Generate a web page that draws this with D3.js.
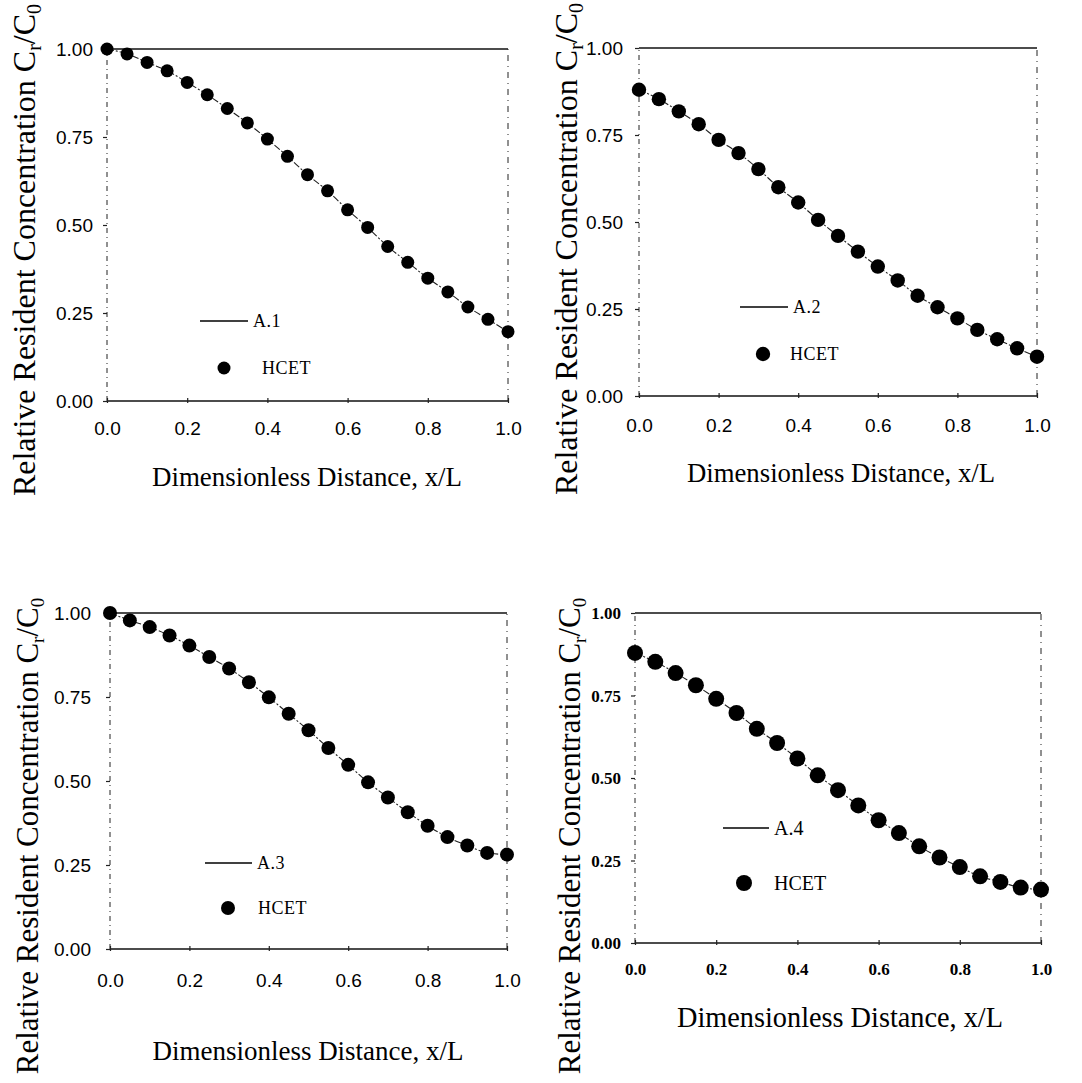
<!DOCTYPE html>
<html>
<head>
<meta charset="utf-8">
<script src="https://cdn.jsdelivr.net/npm/d3@7/dist/d3.min.js"></script>
<style>
html,body{margin:0;padding:0;background:#fff;}
svg{display:block;}
</style>
</head>
<body>
<svg id="chart" width="1082" height="1083"></svg>
<script>
// ---------------- DATA ----------------
const xValues = [0.00,0.05,0.10,0.15,0.20,0.25,0.30,0.35,0.40,0.45,0.50,0.55,0.60,0.65,0.70,0.75,0.80,0.85,0.90,0.95,1.00];
const xTicks = [0.0,0.2,0.4,0.6,0.8,1.0];
const yTicks = [0.00,0.25,0.50,0.75,1.00];
const xTickLabels = ["0.0","0.2","0.4","0.6","0.8","1.0"];
const yTickLabels = ["0.00","0.25","0.50","0.75","1.00"];
const seriesNames = ["A.1","A.2","A.3","A.4"];
const markerName = "HCET";

const valuesA1 = [1.000,0.986,0.962,0.938,0.905,0.870,0.831,0.790,0.744,0.695,0.643,0.597,0.543,0.493,0.439,0.394,0.349,0.310,0.267,0.232,0.197];
const valuesA2 = [0.880,0.853,0.818,0.781,0.736,0.698,0.652,0.600,0.556,0.506,0.460,0.415,0.372,0.332,0.288,0.255,0.223,0.190,0.163,0.137,0.113];
const valuesA3 = [1.000,0.978,0.958,0.933,0.903,0.869,0.835,0.794,0.749,0.700,0.651,0.598,0.548,0.496,0.451,0.407,0.367,0.333,0.308,0.286,0.281];
const valuesA4 = [0.879,0.852,0.818,0.781,0.740,0.697,0.649,0.606,0.559,0.508,0.463,0.417,0.372,0.333,0.293,0.259,0.230,0.202,0.185,0.168,0.162];

// ---------------- LAYOUT ----------------
const panels = [
  {values: valuesA1, name: seriesNames[0], x0:107, x1:508, yT:49,  yB:401, r:6.5,
   tickFont:"'Liberation Sans', Arial, sans-serif", tickSize:19, tickWeight:"normal",
   yLabRight:93, xLabBase:435,
   xTitleX:307, xTitleY:486, xTitleLen:310, xTitleSize:27,
   yTitleX:35, yTitleC:250, yTitleSize:32,
   legLine:[200,248,321], legText1X:253, legDot:[224,368], legText2X:262, legSize:18, legSpacing:0.5},
  {values: valuesA2, name: seriesNames[1], x0:639, x1:1037, yT:48, yB:396, r:7.2,
   tickFont:"'Liberation Sans', Arial, sans-serif", tickSize:19, tickWeight:"normal",
   yLabRight:623, xLabBase:432,
   xTitleX:841, xTitleY:482, xTitleLen:308, xTitleSize:27,
   yTitleX:577, yTitleC:249, yTitleSize:32,
   legLine:[740,788,307], legText1X:793, legDot:[763,354], legText2X:790, legSize:18, legSpacing:0.5},
  {values: valuesA3, name: seriesNames[2], x0:110, x1:507, yT:613, yB:949, r:7,
   tickFont:"'Liberation Sans', Arial, sans-serif", tickSize:19, tickWeight:"normal",
   yLabRight:91, xLabBase:987,
   xTitleX:308, xTitleY:1060, xTitleLen:311, xTitleSize:27,
   yTitleX:38, yTitleC:836, yTitleSize:31,
   legLine:[205,252,863], legText1X:257, legDot:[228,908], legText2X:258, legSize:18, legSpacing:0.5},
  {values: valuesA4, name: seriesNames[3], x0:635, x1:1041, yT:613, yB:943, r:8,
   tickFont:"'Liberation Serif', 'Times New Roman', serif", tickSize:17, tickWeight:"bold",
   yLabRight:621, xLabBase:975,
   xTitleX:840, xTitleY:1027, xTitleLen:326, xTitleSize:30,
   yTitleX:580, yTitleC:836, yTitleSize:31,
   legLine:[723,769,828], legText1X:774, legDot:[744,883], legText2X:774, legSize:20, legSpacing:0}
];

const svg = d3.select("#chart");
const serif = "'Liberation Serif', 'Times New Roman', serif";

panels.forEach((p, pi) => {
  const x = d3.scaleLinear().domain([0,1]).range([p.x0, p.x1]);
  const y = d3.scaleLinear().domain([0,1]).range([p.yB, p.yT]);
  const g = svg.append("g");

  // frame: top/bottom solid, left/right dashed (as in scanned figure)
  g.append("line").attr("x1",p.x0).attr("x2",p.x1).attr("y1",y(1)).attr("y2",y(1))
    .attr("stroke","#111").attr("stroke-width",1.6);
  g.append("line").attr("x1",p.x0).attr("x2",p.x1).attr("y1",y(0)).attr("y2",y(0))
    .attr("stroke","#111").attr("stroke-width",1.6);
  g.append("line").attr("x1",p.x0).attr("x2",p.x0).attr("y1",y(0)).attr("y2",y(1))
    .attr("stroke","#222").attr("stroke-width",1).attr("stroke-dasharray","5,4,1,4");
  g.append("line").attr("x1",p.x1).attr("x2",p.x1).attr("y1",y(0)).attr("y2",y(1))
    .attr("stroke","#222").attr("stroke-width",1).attr("stroke-dasharray","6,5,1,5");

  // y axis
  const yAxis = d3.axisLeft(y).tickValues(yTicks)
    .tickFormat((d,i) => yTickLabels[i]).tickSize(4).tickPadding(p.x0 - p.yLabRight - 4);
  const ya = g.append("g").attr("transform",`translate(${p.x0},0)`).call(yAxis);
  ya.select(".domain").remove();
  ya.selectAll("line").attr("stroke","#222").attr("stroke-width",1.2);
  ya.selectAll("text").attr("font-family",p.tickFont).attr("font-size",p.tickSize)
    .attr("font-weight",p.tickWeight).attr("fill","#000").attr("dy","0.35em");

  // x axis
  const xAxis = d3.axisBottom(x).tickValues(xTicks)
    .tickFormat((d,i) => xTickLabels[i]).tickSize(3).tickPadding(0);
  const xa = g.append("g").attr("transform",`translate(0,${p.yB})`).call(xAxis);
  xa.select(".domain").remove();
  xa.selectAll("line").attr("stroke","#222").attr("stroke-width",1.2).attr("y1",-3).attr("y2",2);
  xa.selectAll("text").attr("font-family",p.tickFont).attr("font-size",p.tickSize)
    .attr("font-weight",p.tickWeight).attr("fill","#000")
    .attr("dy",null).attr("y", p.xLabBase - p.yB);

  // x title
  g.append("text").attr("x",p.xTitleX).attr("y",p.xTitleY)
    .attr("text-anchor","middle").attr("font-family",serif).attr("font-size",p.xTitleSize)
    .attr("textLength",p.xTitleLen).attr("lengthAdjust","spacingAndGlyphs")
    .text("Dimensionless Distance, x/L");

  // y title (rotated)
  const subSize = Math.round(p.yTitleSize * 0.62);
  const yt = g.append("text")
    .attr("transform",`translate(${p.yTitleX},${p.yTitleC}) rotate(-90)`)
    .attr("text-anchor","middle").attr("font-family",serif).attr("font-size",p.yTitleSize)
    .attr("fill","#000");
  yt.append("tspan").text("Relative Resident Concentration C");
  yt.append("tspan").attr("font-size",subSize).attr("dy",6).text("r");
  yt.append("tspan").attr("dy",-6).text("/C");
  yt.append("tspan").attr("font-size",subSize).attr("dy",6).text("0");

  // curve (A.n)
  const pts = xValues.map((xv,i) => [xv, p.values[i]]);
  const line = d3.line().x(d => x(d[0])).y(d => y(d[1])).curve(d3.curveMonotoneX);
  g.append("path").datum(pts).attr("d",line).attr("fill","none")
    .attr("stroke","#222").attr("stroke-width",1.1).attr("stroke-dasharray","7,2,2,2");

  // HCET points
  g.selectAll("circle.pt").data(pts).enter().append("circle").attr("class","pt")
    .attr("cx",d => x(d[0])).attr("cy",d => y(d[1])).attr("r",p.r).attr("fill","#000");

  // legend
  g.append("line").attr("x1",p.legLine[0]).attr("x2",p.legLine[1])
    .attr("y1",p.legLine[2]).attr("y2",p.legLine[2]).attr("stroke","#000").attr("stroke-width",1.5);
  g.append("text").attr("x",p.legText1X).attr("y",p.legLine[2]).attr("dy","0.35em")
    .attr("font-family",serif).attr("font-size",p.legSize).attr("letter-spacing",p.legSpacing)
    .text(p.name);
  g.append("circle").attr("cx",p.legDot[0]).attr("cy",p.legDot[1]).attr("r",p.r).attr("fill","#000");
  g.append("text").attr("x",p.legText2X).attr("y",p.legDot[1]).attr("dy","0.35em")
    .attr("font-family",serif).attr("font-size",p.legSize).attr("letter-spacing",p.legSpacing)
    .text(markerName);
});
</script>
</body>
</html>
